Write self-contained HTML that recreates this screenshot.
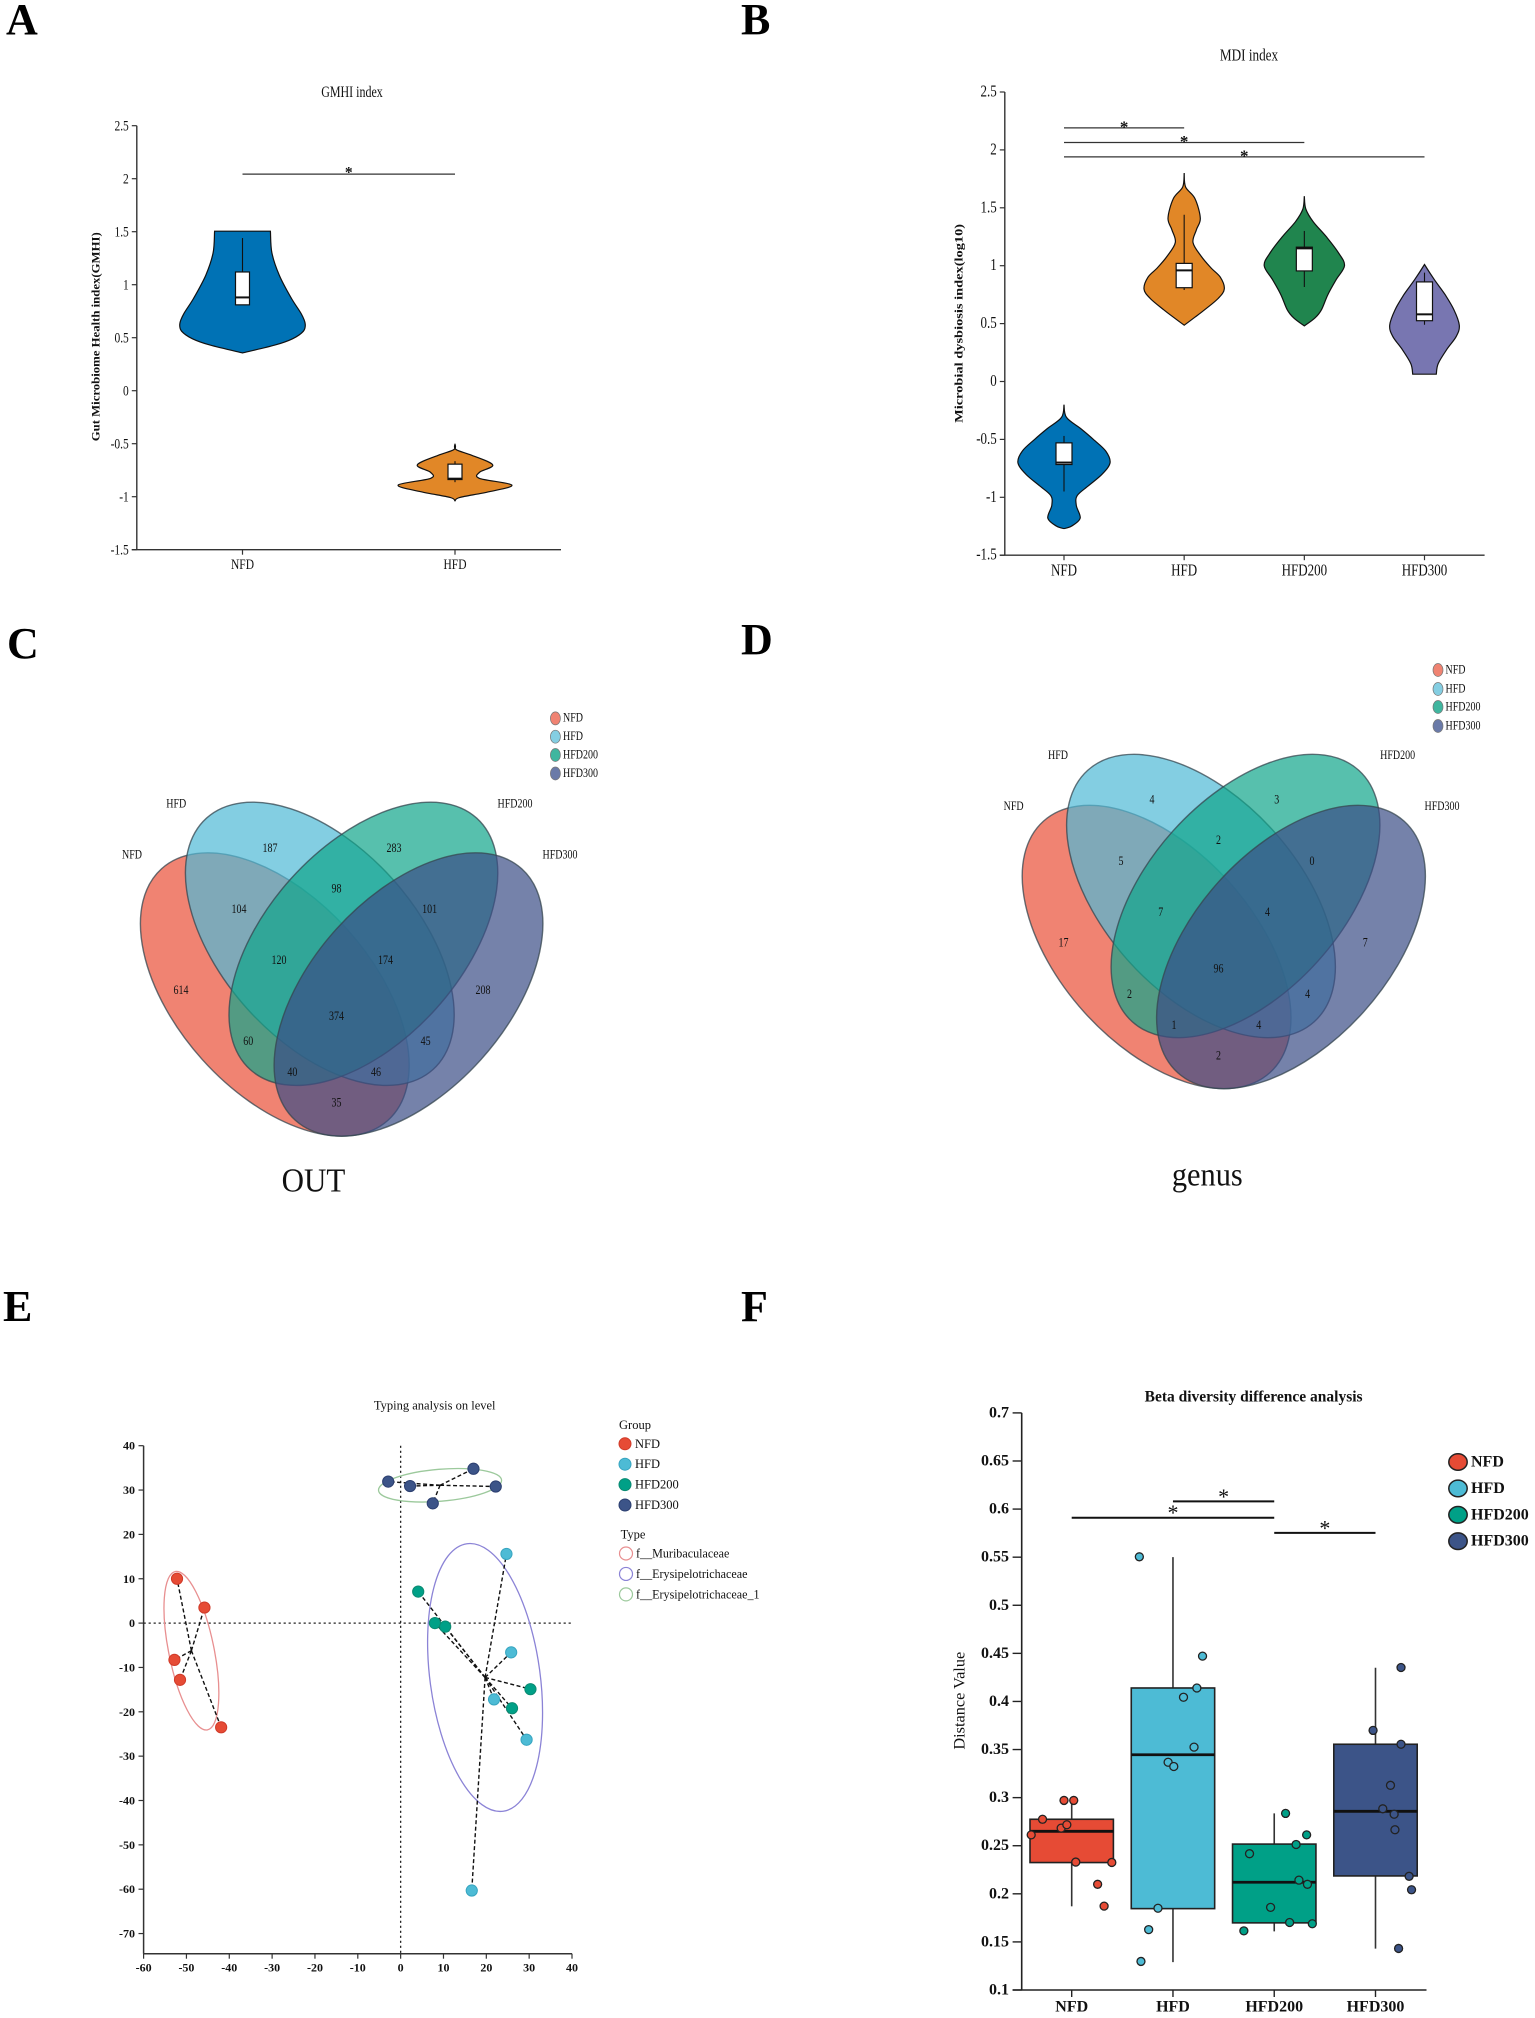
<!DOCTYPE html>
<html lang="en">
<head>
<meta charset="utf-8">
<title>Gut microbiome figure panels</title>
<style>
html,body{margin:0;padding:0;background:#fff;}
svg{display:block;}
text{font-family:"Liberation Serif",serif;fill:#111;}
.letter{font-size:44px;font-weight:bold;fill:#000;}
.tall{transform-box:fill-box;transform-origin:center;transform:scaleY(1.28);}
.caption{transform-box:fill-box;transform-origin:center;transform:scaleY(1.08);}
.vn{font-size:10px;text-anchor:middle;dominant-baseline:central;}
.vl{font-size:10px;dominant-baseline:central;}
.set{fill-opacity:.7;stroke:#36464f;stroke-opacity:.75;stroke-width:1.4;}
</style>
</head>
<body>
<svg id="figure" xmlns="http://www.w3.org/2000/svg" width="1535" height="2018" viewBox="0 0 1535 2018">
<rect width="1535" height="2018" fill="#fff"/>
<text class="letter" x="6" y="34">A</text>
<text class="letter" x="741" y="34">B</text>
<text class="letter" x="7" y="658">C</text>
<text class="letter" x="741" y="654">D</text>
<text class="letter" x="3" y="1321">E</text>
<text class="letter" x="741" y="1321">F</text>

<g id="panel-a"></g>
<g id="panel-b"></g>

<g id="panel-c">
  <ellipse class="set" cx="274.8" cy="994.5" rx="97.4" ry="169.2" fill="#e94e36" transform="rotate(-42 274.8 994.5)"/>
  <ellipse class="set" cx="319.8" cy="943.8" rx="97.4" ry="169.2" fill="#4fb9d6" transform="rotate(-42 319.8 943.8)"/>
  <ellipse class="set" cx="363.4" cy="943.8" rx="97.4" ry="169.2" fill="#0fa58a" transform="rotate(42 363.4 943.8)"/>
  <ellipse class="set" cx="408.5" cy="994.5" rx="97.4" ry="169.2" fill="#3b4d86" transform="rotate(42 408.5 994.5)"/>
  <g>
    <text class="vn tall" x="270" y="848.5">187</text>
    <text class="vn tall" x="394" y="848.5">283</text>
    <text class="vn tall" x="336.5" y="889">98</text>
    <text class="vn tall" x="239" y="909.7">104</text>
    <text class="vn tall" x="429.6" y="909.7">101</text>
    <text class="vn tall" x="279" y="960.6">120</text>
    <text class="vn tall" x="385.5" y="960.6">174</text>
    <text class="vn tall" x="181" y="990.5">614</text>
    <text class="vn tall" x="483" y="990.5">208</text>
    <text class="vn tall" x="336.5" y="1016.5">374</text>
    <text class="vn tall" x="248.3" y="1041.7">60</text>
    <text class="vn tall" x="425.6" y="1041.7">45</text>
    <text class="vn tall" x="292.4" y="1072.7">40</text>
    <text class="vn tall" x="376" y="1072.7">46</text>
    <text class="vn tall" x="336.5" y="1103.4">35</text>
  </g>
  <text class="vn tall" x="176.3" y="804">HFD</text>
  <text class="vn tall" x="515" y="804">HFD200</text>
  <text class="vn tall" x="132" y="855.4">NFD</text>
  <text class="vn tall" x="560" y="855.4">HFD300</text>
  <g>
    <ellipse cx="555.4" cy="718.4" rx="5" ry="6.5" fill="#f08372" stroke="#777" stroke-width=".7"/>
    <text class="vl tall" x="563" y="718.4">NFD</text>
    <ellipse cx="555.4" cy="736.7" rx="5" ry="6.5" fill="#84cee2" stroke="#777" stroke-width=".7"/>
    <text class="vl tall" x="563" y="736.7">HFD</text>
    <ellipse cx="555.4" cy="755" rx="5" ry="6.5" fill="#3fb69f" stroke="#777" stroke-width=".7"/>
    <text class="vl tall" x="563" y="755">HFD200</text>
    <ellipse cx="555.4" cy="773.5" rx="5" ry="6.5" fill="#6a7aa8" stroke="#777" stroke-width=".7"/>
    <text class="vl tall" x="563" y="773.5">HFD300</text>
  </g>
  <text class="caption" x="313.5" y="1180" font-size="31" text-anchor="middle" dominant-baseline="central">OUT</text>
</g>

<g id="panel-d">
  <ellipse class="set" cx="1156.6" cy="947" rx="97.4" ry="169.2" fill="#e94e36" transform="rotate(-42 1156.6 947)"/>
  <ellipse class="set" cx="1201" cy="896" rx="97.4" ry="169.2" fill="#4fb9d6" transform="rotate(-42 1201 896)"/>
  <ellipse class="set" cx="1245.5" cy="896" rx="97.4" ry="169.2" fill="#0fa58a" transform="rotate(42 1245.5 896)"/>
  <ellipse class="set" cx="1291" cy="947" rx="97.4" ry="169.2" fill="#3b4d86" transform="rotate(42 1291 947)"/>
  <g>
    <text class="vn tall" x="1152" y="800">4</text>
    <text class="vn tall" x="1276.8" y="800">3</text>
    <text class="vn tall" x="1218.5" y="840.8">2</text>
    <text class="vn tall" x="1121" y="861.5">5</text>
    <text class="vn tall" x="1312" y="861.5">0</text>
    <text class="vn tall" x="1160.8" y="912.8">7</text>
    <text class="vn tall" x="1267.5" y="912.8">4</text>
    <text class="vn tall" x="1063.5" y="943.4">17</text>
    <text class="vn tall" x="1365.3" y="943.4">7</text>
    <text class="vn tall" x="1218.5" y="969">96</text>
    <text class="vn tall" x="1129.5" y="994.7">2</text>
    <text class="vn tall" x="1307.6" y="994.7">4</text>
    <text class="vn tall" x="1174" y="1025.7">1</text>
    <text class="vn tall" x="1258.7" y="1025.7">4</text>
    <text class="vn tall" x="1218.5" y="1056.3">2</text>
  </g>
  <text class="vn tall" x="1058" y="755.9">HFD</text>
  <text class="vn tall" x="1397.6" y="755.9">HFD200</text>
  <text class="vn tall" x="1013.6" y="806.8">NFD</text>
  <text class="vn tall" x="1442" y="806.8">HFD300</text>
  <g>
    <ellipse cx="1438" cy="670" rx="5" ry="6.5" fill="#f08372" stroke="#777" stroke-width=".7"/>
    <text class="vl tall" x="1445.5" y="670">NFD</text>
    <ellipse cx="1438" cy="689" rx="5" ry="6.5" fill="#84cee2" stroke="#777" stroke-width=".7"/>
    <text class="vl tall" x="1445.5" y="689">HFD</text>
    <ellipse cx="1438" cy="707" rx="5" ry="6.5" fill="#3fb69f" stroke="#777" stroke-width=".7"/>
    <text class="vl tall" x="1445.5" y="707">HFD200</text>
    <ellipse cx="1438" cy="726" rx="5" ry="6.5" fill="#6a7aa8" stroke="#777" stroke-width=".7"/>
    <text class="vl tall" x="1445.5" y="726">HFD300</text>
  </g>
  <text class="caption" x="1207.3" y="1174.5" font-size="30.4" text-anchor="middle" dominant-baseline="central">genus</text>
</g>

<g id="panel-e"></g>
<g id="panel-f"></g>
</svg>

<script>
// ---------- Panel A data ----------
const gmhiCategories = ['NFD', 'HFD'];
const gmhiTicks = [-1.5, -1, -0.5, 0, 0.5, 1, 1.5, 2, 2.5];
const gmhiNfdValues = [1.505, 1.30, 1.09, 0.87, 0.725, 0.63, 0.56, 0.49, 0.43, 0.357];
const gmhiNfdDensity = [0.57, 0.60, 0.75, 1.00, 1.20, 1.28, 1.24, 1.02, 0.66, 0];
const gmhiHfdValues = [-0.50, -0.555, -0.61, -0.70, -0.77, -0.827, -0.89, -0.953, -1.007, -1.04];
const gmhiHfdDensity = [0, 0.02, 0.35, 0.77, 0.50, 0.50, 1.16, 0.70, 0.10, 0];
const gmhiBoxQ3 = [1.12, -0.693];
const gmhiBoxMedian = [0.88, -0.83];
const gmhiBoxQ1 = [0.81, -0.838];
const gmhiWhiskerHigh = [1.44, -0.665];
const gmhiWhiskerLow = [0.81, -0.863];
const gmhiSigFrom = [0];
const gmhiSigTo = [1];
const gmhiSigValue = [2.043];

// ---------- Panel B data ----------
const mdiCategories = ['NFD', 'HFD', 'HFD200', 'HFD300'];
const mdiTicks = [-1.5, -1, -0.5, 0, 0.5, 1, 1.5, 2, 2.5];
const mdiNfdValues = [-0.20, -0.31, -0.41, -0.50, -0.60, -0.70, -0.80, -0.90, -0.985, -1.07, -1.18, -1.25, -1.27];
const mdiNfdDensity = [0, 0.05, 0.35, 0.60, 0.85, 0.94, 0.78, 0.50, 0.27, 0.25, 0.33, 0.15, 0];
const mdiHfdValues = [1.80, 1.68, 1.58, 1.41, 1.31, 1.20, 1.08, 0.98, 0.90, 0.80, 0.72, 0.62, 0.555, 0.486];
const mdiHfdDensity = [0, 0.03, 0.22, 0.33, 0.25, 0.18, 0.35, 0.55, 0.74, 0.82, 0.70, 0.42, 0.22, 0];
const mdiHfd200Values = [1.60, 1.49, 1.38, 1.25, 1.11, 1.00, 0.88, 0.75, 0.62, 0.55, 0.48];
const mdiHfd200Density = [0, 0.03, 0.18, 0.45, 0.70, 0.82, 0.65, 0.48, 0.35, 0.22, 0];
const mdiHfd300Values = [1.01, 0.88, 0.75, 0.62, 0.486, 0.39, 0.28, 0.155, 0.063];
const mdiHfd300Density = [0, 0.20, 0.42, 0.60, 0.71, 0.65, 0.46, 0.28, 0.24];
const mdiBoxQ3 = [-0.53, 1.02, 1.16, 0.86];
const mdiBoxMedian = [-0.70, 0.96, 1.15, 0.58];
const mdiBoxQ1 = [-0.717, 0.81, 0.955, 0.525];
const mdiWhiskerHigh = [-0.47, 1.44, 1.30, 0.94];
const mdiWhiskerLow = [-0.95, 0.79, 0.816, 0.49];
const mdiSigFrom = [0, 0, 0];
const mdiSigTo = [1, 2, 3];
const mdiSigValue = [2.19, 2.064, 1.94];

// ---------- Panel E data ----------
const typingXTicks = [-60, -50, -40, -30, -20, -10, 0, 10, 20, 30, 40];
const typingYTicks = [-70, -60, -50, -40, -30, -20, -10, 0, 10, 20, 30, 40];
const typingGroups = ['NFD', 'HFD', 'HFD200', 'HFD300'];
const typingNfdX = [-52.2, -45.8, -52.8, -51.5, -41.9];
const typingNfdY = [10, 3.5, -8.3, -12.8, -23.5];
const typingHfdX = [24.7, 25.8, 21.8, 29.4, 16.6];
const typingHfdY = [15.6, -6.6, -17.2, -26.3, -60.3];
const typingHfd200X = [4.1, 8, 10.4, 30.3, 26];
const typingHfd200Y = [7.1, 0, -0.8, -14.9, -19.2];
const typingHfd300X = [-2.9, 2.2, 7.5, 17, 22.2];
const typingHfd300Y = [31.9, 30.9, 27, 34.8, 30.8];
const typeNames = ['f__Muribaculaceae', 'f__Erysipelotrichaceae', 'f__Erysipelotrichaceae_1'];
const typeMajor = [18.2, 30.4, 13.9];
const typeMinor = [5.1, 12.4, 3.6];
const typeTilt = [-11.5, -7.7, 85.2];

// ---------- Panel F data ----------
const betaCategories = ['NFD', 'HFD', 'HFD200', 'HFD300'];
const betaTicks = [0.1, 0.15, 0.2, 0.25, 0.3, 0.35, 0.4, 0.45, 0.5, 0.55, 0.6, 0.65, 0.7];
const betaBoxQ3 = [0.2775, 0.414, 0.2517, 0.3555];
const betaBoxMedian = [0.265, 0.3446, 0.212, 0.2858];
const betaBoxQ1 = [0.2325, 0.1846, 0.1698, 0.2186];
const betaWhiskerHigh = [0.297, 0.55, 0.2836, 0.435];
const betaWhiskerLow = [0.187, 0.129, 0.161, 0.143];
const betaNfdPoints = [0.2971, 0.2971, 0.2775, 0.2613, 0.2683, 0.2718, 0.233, 0.2326, 0.2099, 0.1872];
const betaNfdJitter = [-0.076, 0.02, -0.288, -0.4, -0.104, -0.048, 0.04, 0.396, 0.256, 0.32];
const betaHfdPoints = [0.5504, 0.4471, 0.414, 0.4044, 0.3525, 0.3368, 0.3324, 0.185, 0.1628, 0.1297];
const betaHfdJitter = [-0.332, 0.292, 0.236, 0.104, 0.208, -0.048, 0.008, -0.148, -0.24, -0.316];
const betaHfd200Points = [0.2836, 0.2613, 0.2513, 0.2417, 0.2142, 0.2099, 0.1859, 0.1702, 0.1689, 0.1615];
const betaHfd200Jitter = [0.112, 0.32, 0.216, -0.244, 0.244, 0.328, -0.036, 0.152, 0.376, -0.3];
const betaHfd300Points = [0.4353, 0.3699, 0.3555, 0.3128, 0.2884, 0.2827, 0.2666, 0.2182, 0.2042, 0.1432];
const betaHfd300Jitter = [0.252, -0.024, 0.252, 0.148, 0.072, 0.184, 0.192, 0.332, 0.356, 0.228];
const betaSigFrom = [0, 1, 2];
const betaSigTo = [2, 2, 3];
const betaSigValue = [0.591, 0.608, 0.5753];

// ---------- helpers ----------
const NS = 'http://www.w3.org/2000/svg';
function mk(tag, attrs, parent) {
  const el = document.createElementNS(NS, tag);
  for (const k in attrs) el.setAttribute(k, attrs[k]);
  parent.appendChild(el);
  return el;
}
function linear(d0, d1, r0, r1) {
  return v => r0 + (v - d0) * (r1 - r0) / (d1 - d0);
}
function label(parent, x, y, str, opts, name) {
  const o = opts || {};
  const a = {
    transform: 'translate(' + x + ' ' + y + ')' + (o.rotate ? ' rotate(' + o.rotate + ')' : '') + ' scale(1 ' + (o.sy || 1) + ')',
    'font-size': o.size || 12,
    'text-anchor': o.anchor || 'middle',
    'dominant-baseline': 'central'
  };
  if (o.bold) a['font-weight'] = 'bold';
  if (o.length) { a.textLength = o.length; a.lengthAdjust = 'spacingAndGlyphs'; }
  const el = mk('text', a, parent);
  el.textContent = str;
  
  
  return el;
}
function line(parent, x1, y1, x2, y2, stroke, width, name, dash) {
  const a = { x1: x1, y1: y1, x2: x2, y2: y2, stroke: stroke, 'stroke-width': width };
  if (dash) a['stroke-dasharray'] = dash;
  const el = mk('line', a, parent);
  
  
  return el;
}
function smooth(pts) {
  let d = '';
  for (let i = 0; i < pts.length - 1; i++) {
    const p0 = pts[Math.max(i - 1, 0)], p1 = pts[i], p2 = pts[i + 1], p3 = pts[Math.min(i + 2, pts.length - 1)];
    const c1x = p1[0] + (p2[0] - p0[0]) / 6, c1y = p1[1] + (p2[1] - p0[1]) / 6;
    const c2x = p2[0] - (p3[0] - p1[0]) / 6, c2y = p2[1] - (p3[1] - p1[1]) / 6;
    d += ' C' + c1x.toFixed(1) + ' ' + c1y.toFixed(1) + ' ' + c2x.toFixed(1) + ' ' + c2y.toFixed(1) + ' ' + p2[0].toFixed(1) + ' ' + p2[1].toFixed(1);
  }
  return d;
}
function violinPath(cx, y, values, density, scale) {
  const right = values.map((v, i) => [cx + density[i] * scale, y(v)]);
  const left = values.map((v, i) => [cx - density[i] * scale, y(v)]).reverse();
  return 'M' + right[0][0].toFixed(1) + ' ' + right[0][1].toFixed(1) + smooth(right) +
    ' L' + left[0][0].toFixed(1) + ' ' + left[0][1].toFixed(1) + smooth(left) + ' Z';
}

function drawViolinChart(cfg) {
  const g = cfg.g, y = cfg.y, x = cfg.x;
  // axes
  line(g, cfg.left, y(cfg.ticks[0]), cfg.left, y(cfg.ticks[cfg.ticks.length - 1]), '#333', 1.4, 'y-axis-line');
  line(g, cfg.left - 5, y(cfg.ticks[0]), cfg.right, y(cfg.ticks[0]), '#333', 1.4, 'x-axis-line');
  cfg.ticks.forEach(t => {
    line(g, cfg.left - 5, y(t), cfg.left, y(t), '#333', 1.2, 'y-tick');
    label(g, cfg.left - 8, y(t), String(t), { anchor: 'end', size: cfg.font, sy: 1.28 }, 'y-tick-label');
  });
  cfg.categories.forEach((c, i) => {
    line(g, x(i), y(cfg.ticks[0]), x(i), y(cfg.ticks[0]) + 5, '#333', 1.2, 'x-tick');
    label(g, x(i), y(cfg.ticks[0]) + cfg.labelGap, c, { size: cfg.font, sy: 1.28 }, 'x-tick-label-' + c.toLowerCase());
    const v = mk('path', { d: violinPath(x(i), y, cfg.values[i], cfg.density[i], 49), fill: cfg.colors[i], stroke: '#111', 'stroke-width': 1.2 }, g);
    
    
    line(g, x(i), y(cfg.whiskerHigh[i]), x(i), y(cfg.whiskerLow[i]), '#111', 1.1, 'box-whisker-' + c.toLowerCase());
    const b = mk('rect', { x: x(i) - cfg.boxHalf, y: y(cfg.q3[i]), width: cfg.boxHalf * 2, height: y(cfg.q1[i]) - y(cfg.q3[i]), fill: '#fff', stroke: '#111', 'stroke-width': 1.2 }, g);
    
    
    line(g, x(i) - cfg.boxHalf, y(cfg.median[i]), x(i) + cfg.boxHalf, y(cfg.median[i]), '#111', 2, 'box-median-' + c.toLowerCase());
  });
  cfg.sigValue.forEach((s, i) => {
    line(g, x(cfg.sigFrom[i]), y(s), x(cfg.sigTo[i]), y(s), '#333', 1.3, 'significance-bar');
    label(g, (x(cfg.sigFrom[i]) + x(cfg.sigTo[i])) / 2, y(s) - 1, '*', { size: cfg.font + 4, bold: true, sy: 1 }, 'significance-star');
  });
}

const blue = '#0072B5', orange = '#E18727', green = '#20854E', purple = '#7876B1';

// ---------- Panel A ----------
(function () {
  const g = document.getElementById('panel-a');
  const y = linear(0, 1, 390.7, 284.7);
  const x = linear(0, 1, 242.5, 455);
  label(g, 352, 92, 'GMHI index', { size: 12, sy: 1.28 }, 'chart-title');
  label(g, 95.5, 336.8, 'Gut Microbiome Health index(GMHI)', { size: 12, bold: true, rotate: -90, length: 209 }, 'y-axis-title');
  drawViolinChart({
    g: g, x: x, y: y, left: 136.8, right: 561, font: 11.5, labelGap: 14.5, boxHalf: 7,
    ticks: gmhiTicks, categories: gmhiCategories, colors: [blue, orange],
    values: [gmhiNfdValues, gmhiHfdValues], density: [gmhiNfdDensity, gmhiHfdDensity],
    q3: gmhiBoxQ3, median: gmhiBoxMedian, q1: gmhiBoxQ1,
    whiskerHigh: gmhiWhiskerHigh, whiskerLow: gmhiWhiskerLow,
    sigFrom: gmhiSigFrom, sigTo: gmhiSigTo, sigValue: gmhiSigValue
  });
})();

// ---------- Panel B ----------
(function () {
  const g = document.getElementById('panel-b');
  const y = linear(0, 1, 381.5, 265.7);
  const x = linear(0, 3, 1064, 1424.5);
  label(g, 1249, 55.5, 'MDI index', { size: 13.2, sy: 1.28 }, 'chart-title');
  label(g, 958.7, 323.4, 'Microbial dysbiosis index(log10)', { size: 12, bold: true, rotate: -90, length: 199 }, 'y-axis-title');
  drawViolinChart({
    g: g, x: x, y: y, left: 1004.8, right: 1484.6, font: 13, labelGap: 16, boxHalf: 8,
    ticks: mdiTicks, categories: mdiCategories, colors: [blue, orange, green, purple],
    values: [mdiNfdValues, mdiHfdValues, mdiHfd200Values, mdiHfd300Values],
    density: [mdiNfdDensity, mdiHfdDensity, mdiHfd200Density, mdiHfd300Density],
    q3: mdiBoxQ3, median: mdiBoxMedian, q1: mdiBoxQ1,
    whiskerHigh: mdiWhiskerHigh, whiskerLow: mdiWhiskerLow,
    sigFrom: mdiSigFrom, sigTo: mdiSigTo, sigValue: mdiSigValue
  });
})();

// ---------- Panel E ----------
(function () {
  const g = document.getElementById('panel-e');
  const x = linear(-60, 40, 143.6, 572);
  const y = linear(0, 40, 1623.1, 1445.7);
  const unit = 4.44;
  const bottom = 1953.7;
  const colors = ['#E64B35', '#4DBBD5', '#00A087', '#3C5488'];
  const strokeColors = ['#d03a28', '#37a5c0', '#0b8a72', '#2c3f70'];
  const typeColors = ['#e88f90', '#8b83d6', '#9cc99c'];
  const xs = [typingNfdX, typingHfdX, typingHfd200X, typingHfd300X];
  const ys = [typingNfdY, typingHfdY, typingHfd200Y, typingHfd300Y];
  const clusters = [[0], [1, 2], [3]];
  const mean = a => a.reduce((s, v) => s + v, 0) / a.length;

  label(g, 434.7, 1405.7, 'Typing analysis on level', { size: 12.5 }, 'chart-title');

  line(g, 143.6, 1445.7, 143.6, bottom, '#333', 1.5, 'y-axis-line');
  line(g, 143.6, bottom, 572, bottom, '#333', 1.5, 'x-axis-line');
  typingYTicks.forEach(t => {
    line(g, 138.5, y(t), 143.6, y(t), '#333', 1.2, 'y-tick');
    label(g, 135, y(t), String(t), { anchor: 'end', size: 12, bold: true }, 'y-tick-label');
  });
  typingXTicks.forEach(t => {
    line(g, x(t), bottom, x(t), bottom + 5, '#333', 1.2, 'x-tick');
    label(g, x(t), bottom + 14, String(t), { size: 12, bold: true }, 'x-tick-label');
  });
  line(g, x(0), y(40), x(0), bottom, '#222', 1.3, 'zero-line-vertical', '2.2 2.8');
  line(g, x(-60), y(0), x(40), y(0), '#222', 1.3, 'zero-line-horizontal', '2.2 2.8');

  clusters.forEach((members, ci) => {
    const allX = [].concat.apply([], members.map(m => xs[m]));
    const allY = [].concat.apply([], members.map(m => ys[m]));
    const cx = x(mean(allX)), cy = y(mean(allY));
    const e = mk('ellipse', {
      cx: cx, cy: cy, rx: typeMinor[ci] * unit, ry: typeMajor[ci] * unit,
      fill: 'none', stroke: typeColors[ci], 'stroke-width': 1.3,
      transform: 'rotate(' + typeTilt[ci] + ' ' + cx + ' ' + cy + ')'
    }, g);
    
    
    allX.forEach((vx, i) => {
      line(g, cx, cy, x(vx), y(allY[i]), '#111', 1.4, 'centroid-spoke', '4 2.5');
    });
  });
  typingGroups.forEach((name, gi) => {
    xs[gi].forEach((vx, i) => {
      const c = mk('circle', { cx: x(vx), cy: y(ys[gi][i]), r: 5.6, fill: colors[gi], stroke: strokeColors[gi], 'stroke-width': 1 }, g);
      
      
    });
  });

  label(g, 635, 1425, 'Group', { size: 12.5, anchor: 'middle' }, 'legend-group-title');
  typingGroups.forEach((name, i) => {
    const cy = 1443.8 + i * 20.4;
    const c = mk('circle', { cx: 625, cy: cy, r: 6, fill: colors[i], stroke: strokeColors[i], 'stroke-width': 1 }, g);
    
    
    label(g, 635, cy, name, { size: 12.5, anchor: 'start' }, 'legend-label-' + name.toLowerCase());
  });
  label(g, 633, 1534.6, 'Type', { size: 12.5 }, 'legend-type-title');
  typeNames.forEach((name, i) => {
    const cy = 1553.5 + i * 20.45;
    const c = mk('circle', { cx: 626, cy: cy, r: 6.5, fill: '#fff', stroke: typeColors[i], 'stroke-width': 1.2 }, g);
    
    
    label(g, 636, cy, name, { size: 12.1, anchor: 'start' }, 'legend-label-type-' + i);
  });
})();

// ---------- Panel F ----------
(function () {
  const g = document.getElementById('panel-f');
  const y = linear(0.1, 0.7, 1990, 1412.9);
  const x = linear(0, 3, 1071.7, 1375.5);
  const colors = ['#E64B35', '#4DBBD5', '#00A087', '#3C5488'];
  const pts = [betaNfdPoints, betaHfdPoints, betaHfd200Points, betaHfd300Points];
  const jit = [betaNfdJitter, betaHfdJitter, betaHfd200Jitter, betaHfd300Jitter];
  const boxHalf = 41.7;

  label(g, 1253.6, 1397, 'Beta diversity difference analysis', { size: 15.5, bold: true }, 'chart-title');
  label(g, 959, 1700.7, 'Distance Value', { size: 16.3, rotate: -90 }, 'y-axis-title');

  line(g, 1021.7, y(0.7), 1021.7, y(0.1), '#222', 1.6, 'y-axis-line');
  line(g, 1012.6, y(0.1), 1426.5, y(0.1), '#222', 1.6, 'x-axis-line');
  betaTicks.forEach(t => {
    line(g, 1012.6, y(t), 1021.7, y(t), '#222', 1.4, 'y-tick');
    label(g, 1009, y(t), String(t), { anchor: 'end', size: 16, bold: true }, 'y-tick-label');
  });
  betaCategories.forEach((c, i) => {
    const n = c.toLowerCase();
    line(g, x(i), y(0.1), x(i), y(0.1) + 7, '#222', 1.4, 'x-tick');
    label(g, x(i), 2007, c, { size: 16, bold: true }, 'x-tick-label-' + n);
    line(g, x(i), y(betaWhiskerHigh[i]), x(i), y(betaWhiskerLow[i]), '#333', 1.6, 'whisker-' + n);
    const b = mk('rect', { x: x(i) - boxHalf, y: y(betaBoxQ3[i]), width: boxHalf * 2, height: y(betaBoxQ1[i]) - y(betaBoxQ3[i]), fill: colors[i], stroke: '#222', 'stroke-width': 1.6 }, g);
    
    
    line(g, x(i) - boxHalf, y(betaBoxMedian[i]), x(i) + boxHalf, y(betaBoxMedian[i]), '#111', 2.8, 'median-' + n);
    pts[i].forEach((v, k) => {
      const p = mk('circle', { cx: x(i + jit[i][k]), cy: y(v), r: 4, fill: colors[i], stroke: '#222', 'stroke-width': 1.3 }, g);
      
      
    });
  });
  betaSigValue.forEach((s, i) => {
    line(g, x(betaSigFrom[i]), y(s), x(betaSigTo[i]), y(s), '#111', 2, 'significance-bar');
    label(g, (x(betaSigFrom[i]) + x(betaSigTo[i])) / 2, y(s) - 5, '*', { size: 22 }, 'significance-star');
  });
  betaCategories.forEach((c, i) => {
    const cy = 1462 + i * 26.4;
    const e = mk('ellipse', { cx: 1458, cy: cy, rx: 9.2, ry: 8.3, fill: colors[i], stroke: '#222', 'stroke-width': 1.5 }, g);
    
    
    label(g, 1471, cy, c, { size: 16, bold: true, anchor: 'start' }, 'legend-label-' + c.toLowerCase());
  });
})();
</script>
</body>
</html>
